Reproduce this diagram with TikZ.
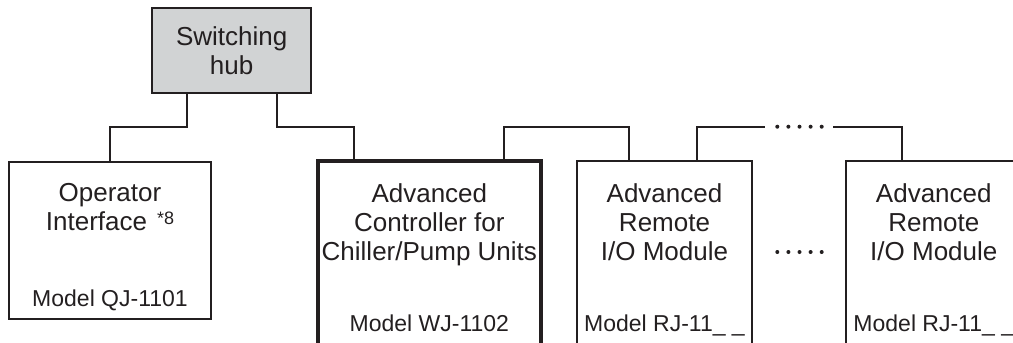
\documentclass[tikz,border=0pt]{standalone}
\usepackage{fontspec}
\setmainfont{Liberation Sans}
\usetikzlibrary{positioning}

\definecolor{ink}{RGB}{35,31,32}
\definecolor{hubgray}{RGB}{209,211,212}
\newcommand{\titlefont}{\fontsize{26}{29}\selectfont}
\newcommand{\modelfont}{\fontsize{23}{27}\selectfont}

\begin{document}
\begin{tikzpicture}[
    x=1pt, y=-1pt,
    unit/.style={draw=ink, line width=2pt, minimum width=175.6pt, minimum height=200pt, anchor=north west, inner sep=0pt, outer sep=0pt},
    mainunit/.style={unit, line width=4.3pt, minimum width=222.7pt},
    hubbox/.style={draw=ink, line width=2.2pt, fill=hubgray, minimum width=158.7pt, minimum height=84.4pt, align=center, outer sep=0pt, text=ink, font=\titlefont},
    title/.style={align=center, inner sep=0pt, anchor=north, text=ink, font=\titlefont},
    model/.style={inner sep=0pt, anchor=base, text=ink, font=\modelfont},
    link/.style={draw=ink, line width=2pt},
    dot/.style={fill=ink}
]
    \useasboundingbox (0,0) rectangle (1013,343);
    \clip (0,0) rectangle (1013,343);

    % --- Hub ---
    \node[hubbox] (hub) at (231.65,50.5) {Switching\\hub};

    % --- Units (bottoms run off the page) ---
    \node[unit, minimum width=202pt, minimum height=157.3pt] (opif) at (9,161.7) {};
    \node[mainunit] (ctrl) at (318,160.7) {};
    \node[unit] (rio1) at (576.7,160.7) {};
    \node[unit] (rio2) at (846,160.7) {};

    % Rows for the texts
    \coordinate (row_title) at (0,183.5);
    \coordinate (row_model) at (0,331);

    \node[title] (opif_t) at (opif.north |- row_title) {Operator\\Interface\hspace{10pt}\raisebox{6pt}{\fontsize{18}{18}\selectfont *8}};
    \node[model] (opif_m) at (opif.north |- 0,306) {Model QJ-1101};

    \node[title] (ctrl_t) at (ctrl.north |- row_title) {Advanced\\Controller for\\Chiller/Pump Units};
    \node[model] (ctrl_m) at (ctrl.north |- row_model) {Model WJ-1102};

    \node[title] (rio1_t) at (rio1.north |- row_title) {Advanced\\Remote\\I/O Module};
    \node[model] (rio1_m) at (rio1.north |- row_model) {Model RJ-11\_ \_};

    \node[title] (rio2_t) at (rio2.north |- row_title) {Advanced\\Remote\\I/O Module};
    \node[model] (rio2_m) at (rio2.north |- row_model) {Model RJ-11\_ \_};

    % --- Network lines ---
    \coordinate (bus) at (0,126.7);
    \coordinate (hub_l) at ([xshift=-45pt]hub.south);
    \coordinate (hub_r) at ([xshift=45pt]hub.south);
    \coordinate (ctrl_in) at ([xshift=36.3pt]ctrl.north west);
    \coordinate (ctrl_out) at ([xshift=-36.4pt]ctrl.north east);
    \coordinate (rio1_in) at ([xshift=52.3pt]rio1.north west);
    \coordinate (rio1_out) at ([xshift=-55.6pt]rio1.north east);
    \coordinate (rio2_in) at ([xshift=55.7pt]rio2.north west);
    \coordinate (gap_l) at (765,126.7);
    \coordinate (gap_r) at (833.3,126.7);

    \draw[link] (hub_l) |- (opif.north |- bus) -- (opif.north);
    \draw[link] (hub_r) |- (ctrl_in |- bus) -- (ctrl_in);
    \draw[link] (ctrl_out) |- (rio1_in |- bus) -- (rio1_in);
    \draw[link] (rio1_out) |- (gap_l);
    \draw[link] (gap_r) -| (rio2_in);

    % dots: in the line and between the modules
    \foreach \i in {0,...,4} {
        \fill[dot] (777.3+11.1*\i,126.7) circle (2pt);
        \fill[dot] (777.3+11.1*\i,252) circle (2pt);
    }

\end{tikzpicture}
\end{document}
